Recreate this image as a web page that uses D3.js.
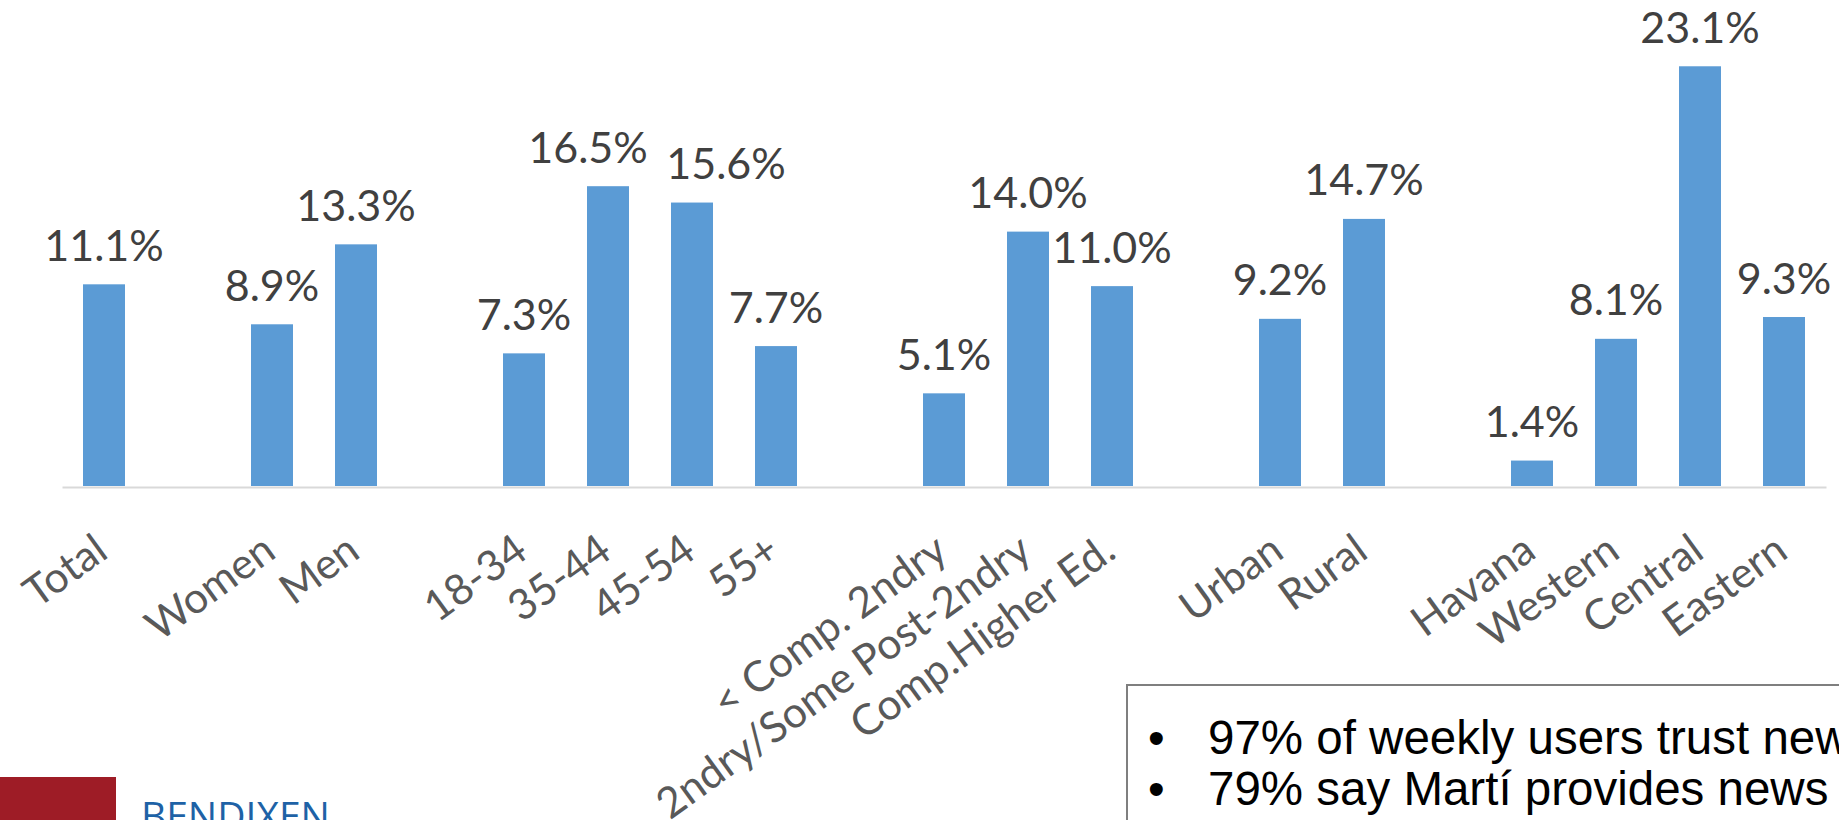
<!DOCTYPE html>
<html>
<head>
<meta charset="utf-8">
<script src="https://cdn.jsdelivr.net/npm/d3@7"></script>
<style>
  html, body { margin: 0; padding: 0; background: #ffffff; overflow: hidden; }
  svg { display: block; }
</style>
</head>
<body>
<svg id="chart" width="1839" height="820"></svg>
<script>
// ---- Data ----
const categories = ["Total", "", "Women", "Men", "", "18-34", "35-44", "45-54", "55+", "",
  "< Comp. 2ndry", "2ndry/Some Post-2ndry", "Comp.Higher Ed.", "", "Urban", "Rural", "",
  "Havana", "Western", "Central", "Eastern"];
const values = [11.1, null, 8.9, 13.3, null, 7.3, 16.5, 15.6, 7.7, null,
  5.1, 14.0, 11.0, null, 9.2, 14.7, null, 1.4, 8.1, 23.1, 9.3];
const yDomain = [0, 25];
const noteLines = ["97% of weekly users trust news", "79% say Martí provides news"];
const logoText = "BENDIXEN";

// layout-only nudges of data labels (the original nudged two crowded labels apart)
const labelNudge = { "35-44": -20, "45-54": 34 };

// ---- Layout ----
const baseY = 486;
const svg = d3.select("#chart");

const x = d3.scaleBand()
  .domain(d3.range(categories.length))
  .range([62, 1826])
  .paddingInner(0.5)
  .paddingOuter(0.25);

const y = d3.scaleLinear().domain(yDomain).range([baseY, baseY - 25 * 18.17]);

const data = values.map((v, i) => ({ i, v, label: categories[i] })).filter(d => d.v !== null);

// Bars
svg.append("g").selectAll("rect")
  .data(data)
  .join("rect")
  .attr("x", d => x(d.i))
  .attr("y", d => y(d.v))
  .attr("width", x.bandwidth())
  .attr("height", d => y(0) - y(d.v))
  .attr("fill", "#5b9bd5");

// Value labels
svg.append("g").selectAll("text")
  .data(data)
  .join("text")
  .attr("x", d => x(d.i) + x.bandwidth() / 2 + (labelNudge[d.label] || 0))
  .attr("y", d => y(d.v) - 23.5)
  .attr("text-anchor", "middle")
  .attr("font-family", "Lato, 'Open Sans', sans-serif")
  .attr("font-size", 43)
  .attr("fill", "#404040")
  .text(d => d3.format(".1f")(d.v) + "%");

// X axis
const axis = d3.axisBottom(x)
  .tickSize(0)
  .tickSizeOuter(0)
  .tickFormat(i => categories[i]);

const gx = svg.append("g")
  .attr("transform", `translate(0,${baseY + 1})`)
  .call(axis);

gx.select(".domain").attr("stroke", "#d9d9d9").attr("stroke-width", 2);
gx.selectAll(".tick text")
  .attr("x", 0).attr("y", 0).attr("dy", 0)
  .attr("text-anchor", "end")
  .attr("transform", "translate(6,69) rotate(-36)")
  .attr("font-family", "Lato, 'Open Sans', sans-serif")
  .attr("font-size", 42.5)
  .attr("fill", "#595959");

// Text box with bullets
const box = svg.append("g");
box.append("rect")
  .attr("x", 1127).attr("y", 685)
  .attr("width", 900).attr("height", 300)
  .attr("fill", "#ffffff")
  .attr("stroke", "#7f7f7f")
  .attr("stroke-width", 2);
noteLines.forEach((t, k) => {
  box.append("text")
    .attr("x", 1148).attr("y", 754 + k * 51)
    .attr("font-family", "'Liberation Sans', Arial, sans-serif")
    .attr("font-size", 47.5)
    .attr("fill", "#000000")
    .text("•");
  box.append("text")
    .attr("x", 1208).attr("y", 754 + k * 51)
    .attr("font-family", "'Liberation Sans', Arial, sans-serif")
    .attr("font-size", 47.5)
    .attr("fill", "#000000")
    .text(t);
});

// Logo (partially visible at bottom-left)
svg.append("rect")
  .attr("x", 0).attr("y", 777)
  .attr("width", 116).attr("height", 60)
  .attr("fill", "#9e1c26");
svg.append("text")
  .attr("x", 141).attr("y", 830)
  .attr("font-family", "'Open Sans', sans-serif")
  .attr("font-size", 39)
  .attr("fill", "#1e62a6")
  .text(logoText);
</script>
</body>
</html>
